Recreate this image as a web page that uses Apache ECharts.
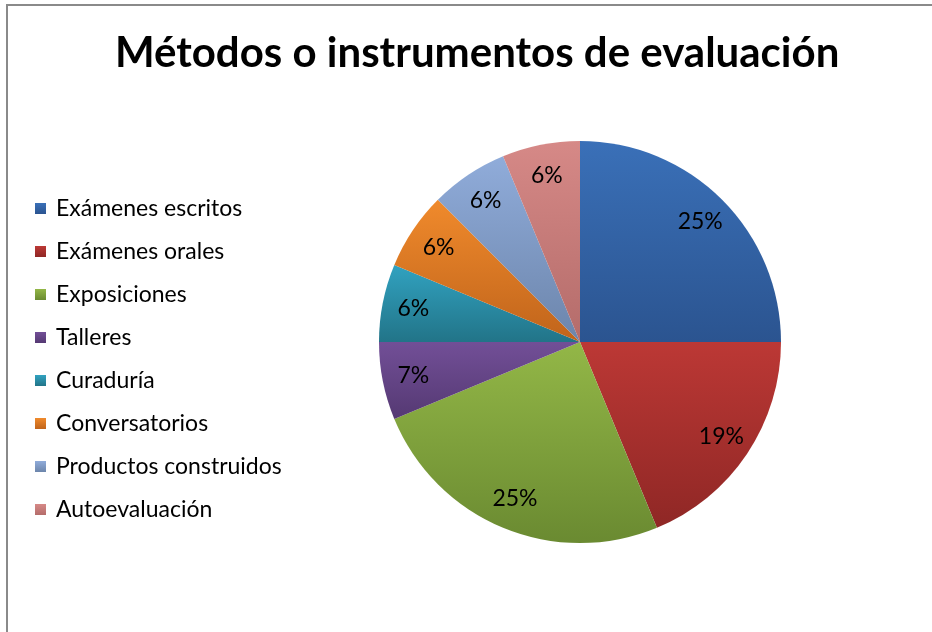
<!DOCTYPE html>
<html>
<head>
<meta charset="utf-8">
<script src="https://cdn.jsdelivr.net/npm/echarts@6/dist/echarts.min.js"></script>
<style>
html,body{margin:0;padding:0;background:#fff;}
#chart{width:932px;height:632px;}
</style>
</head>
<body>
<div id="chart"></div>
<script>
const titleText = 'Métodos o instrumentos de evaluación';
const categories = ['Exámenes escritos','Exámenes orales','Exposiciones','Talleres','Curaduría','Conversatorios','Productos construidos','Autoevaluación'];
// share of each slice (percent)
const values = [25, 18.75, 25, 6.25, 6.25, 6.25, 6.25, 6.25];
const topColors = ['#3a70b8','#bc3835','#93b747','#724f97','#31a2c0','#f08a2c','#90acda','#d68987'];
const bottomColors = ['#2b5490','#8f2725','#6a8a31','#553973','#227488','#c0641b','#6c85ab','#b46c6a'];

const chart = echarts.init(document.getElementById('chart'), null, {renderer:'canvas'});
const pieData = categories.map((name, i) => ({
  name: name,
  value: values[i],
  itemStyle: {
    color: new echarts.graphic.LinearGradient(0, 0, 0, 1, [
      {offset: 0, color: topColors[i]},
      {offset: 1, color: bottomColors[i]}
    ])
  }
}));
const labelData = categories.map((name, i) => ({name: name, value: values[i]}));
const R = 201;
chart.setOption({
  animation: false,
  backgroundColor: '#ffffff',
  graphic: [{
    type: 'rect',
    shape: {x: 7, y: 5, width: 940, height: 700},
    style: {fill: 'none', stroke: '#8a8a8a', lineWidth: 2},
    silent: true,
    z: -10
  }],
  title: {
    text: titleText,
    left: 110,
    top: 27,
    textStyle: {fontFamily: 'Lato', fontWeight: 'bold', fontSize: 42, color: '#000'}
  },
  legend: {
    orient: 'vertical',
    left: 30,
    top: 192,
    icon: 'rect',
    itemWidth: 11,
    itemHeight: 11,
    itemGap: 20,
    selectedMode: false,
    data: categories,
    textStyle: {fontFamily: 'Lato', fontSize: 23, lineHeight: 23, color: '#000', padding: [0,0,0,5]}
  },
  series: [{
    type: 'pie',
    center: [580, 342],
    radius: [0, R],
    startAngle: 90,
    clockwise: true,
    silent: true,
    percentPrecision: 0,
    label: {show: false},
    labelLine: {show: false},
    itemStyle: {borderWidth: 0},
    data: pieData
  }, {
    type: 'pie',
    center: [580, 342],
    radius: [Math.round(R * 0.66), R],
    startAngle: 90,
    clockwise: true,
    silent: true,
    percentPrecision: 0,
    itemStyle: {color: 'rgba(0,0,0,0)', borderWidth: 0},
    labelLine: {show: false},
    label: {
      show: true,
      position: 'inside',
      formatter: '{d}%',
      fontFamily: 'Lato',
      fontSize: 23,
      color: '#000'
    },
    data: labelData
  }]
});
</script>
</body>
</html>
